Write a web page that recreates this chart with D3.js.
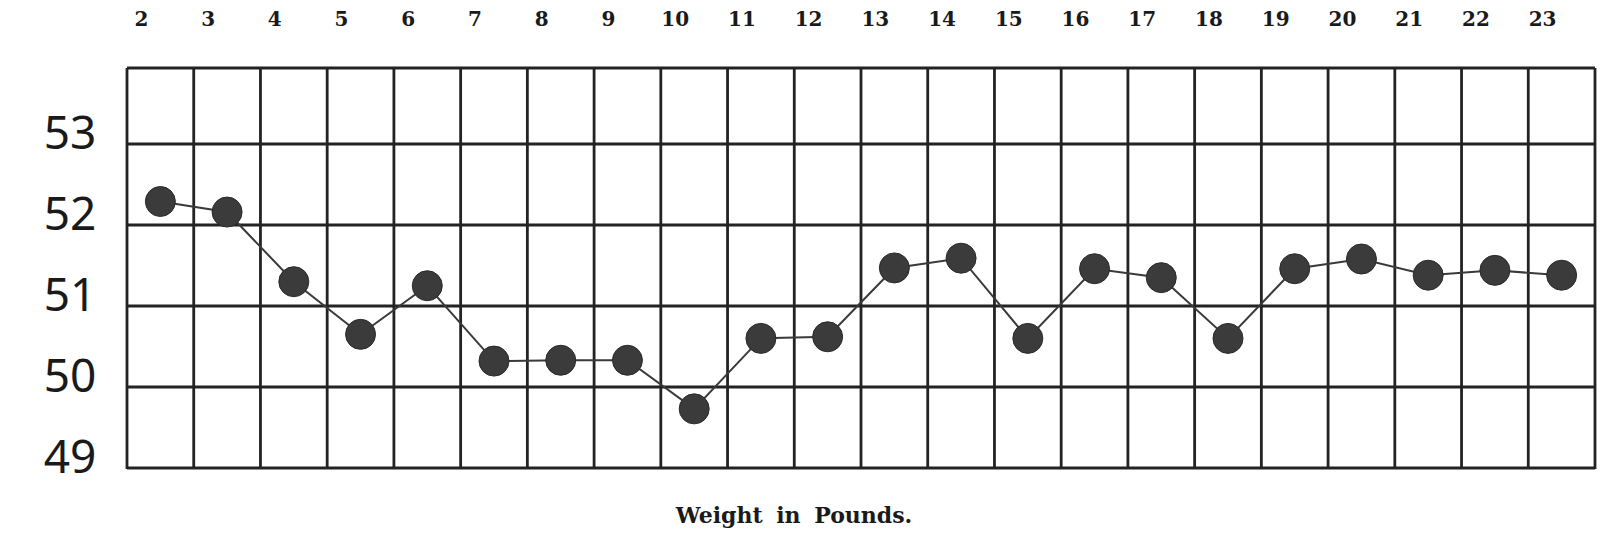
<!DOCTYPE html>
<html>
<head>
<meta charset="utf-8">
<script src="https://cdn.jsdelivr.net/npm/d3@7"></script>
<style>
  html, body { margin: 0; padding: 0; background: #ffffff; }
  svg { display: block; }
</style>
</head>
<body>
<svg id="chart" width="1606" height="558"></svg>
<script>
// ---- data ----
const weights = [2, 3, 4, 5, 6, 7, 8, 9, 10, 11, 12, 13, 14, 15, 16, 17, 18, 19, 20, 21, 22, 23];
const values  = [52.29, 52.16, 51.30, 50.65, 51.25, 50.32, 50.33, 50.33, 49.73, 50.60, 50.62,
                 51.47, 51.59, 50.60, 51.46, 51.35, 50.60, 51.46, 51.58, 51.38, 51.44, 51.38];
const yTicks  = [49, 50, 51, 52, 53];
const xTitle  = "Weight in Pounds.";

// ---- layout ----
const W = 1606, H = 558;
const plot = { left: 127, right: 1595, top: 68, bottom: 469 };
const svg = d3.select("#chart");

const x = d3.scaleBand().domain(weights).range([plot.left, plot.right]).padding(0);
const y = d3.scaleLinear().domain([49, 53]).range([468, 144]);

const ink = "#232323";
const gridW = 2.8;

// grid: vertical lines at every column boundary
const edges = weights.map(d => x(d)).concat([plot.right]);
svg.append("g").selectAll("line").data(edges).join("line")
  .attr("x1", d => d).attr("x2", d => d)
  .attr("y1", plot.top).attr("y2", plot.bottom)
  .attr("stroke", ink).attr("stroke-width", gridW);

// horizontal lines: top border plus each value level
svg.append("line")
  .attr("x1", plot.left).attr("x2", plot.right)
  .attr("y1", plot.top).attr("y2", plot.top)
  .attr("stroke", ink).attr("stroke-width", gridW);
svg.append("g").selectAll("line").data(yTicks).join("line")
  .attr("x1", plot.left).attr("x2", plot.right)
  .attr("y1", d => y(d)).attr("y2", d => y(d))
  .attr("stroke", ink).attr("stroke-width", gridW);

// top tick labels (weights), printed a little left of each column centre
svg.append("g").selectAll("text").data(weights).join("text")
  .attr("x", d => x(d) + x.bandwidth() / 2 - 19)
  .attr("y", 26)
  .attr("text-anchor", "middle")
  .attr("font-family", "'DejaVu Serif', serif")
  .attr("font-weight", "bold")
  .attr("font-size", 20)
  .attr("fill", "#1a1a1a")
  .text(d => d);

// left tick labels (handwritten style)
svg.append("g").selectAll("text").data(yTicks).join("text")
  .attr("x", 70)
  .attr("y", d => y(d) - 12)
  .attr("dy", "0.36em")
  .attr("text-anchor", "middle")
  .attr("font-family", "'Noto Sans', sans-serif")
  .attr("font-size", 46)
  .attr("fill", "#1a1a1a")
  .text(d => d);

// connecting line
const pts = weights.map((w, i) => [x(w) + x.bandwidth() / 2, y(values[i])]);
svg.append("path")
  .attr("d", d3.line()(pts))
  .attr("fill", "none")
  .attr("stroke", "#3a3a3a")
  .attr("stroke-width", 2);

// dots
svg.append("g").selectAll("circle").data(weights).join("circle")
  .attr("cx", d => x(d) + x.bandwidth() / 2)
  .attr("cy", (d, i) => y(values[i]))
  .attr("r", 15)
  .attr("fill", "#3b3b3b")
  .attr("stroke", "#2a2a2a")
  .attr("stroke-width", 1);

// x title
svg.append("text")
  .attr("x", 794)
  .attr("y", 523)
  .attr("text-anchor", "middle")
  .attr("font-family", "'DejaVu Serif', serif")
  .attr("font-weight", "bold")
  .attr("font-size", 22)
  .attr("word-spacing", 6)
  .attr("fill", "#1a1a1a")
  .text(xTitle);
</script>
</body>
</html>
